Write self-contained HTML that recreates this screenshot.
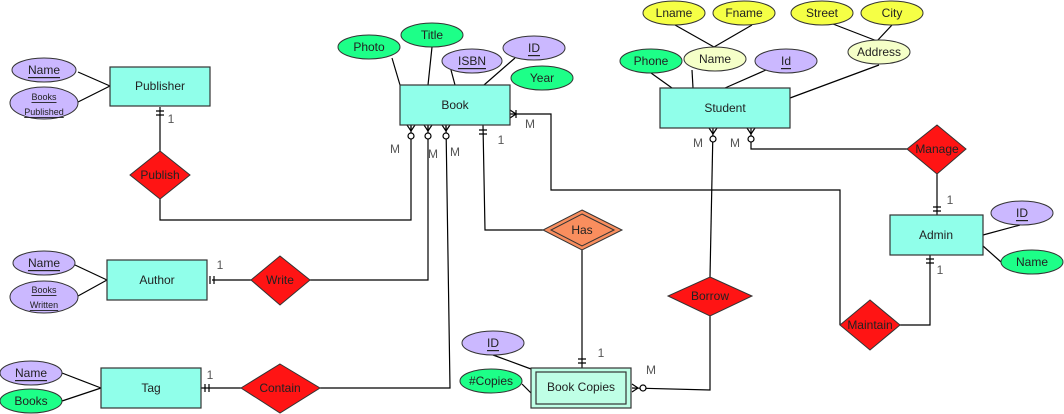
<!DOCTYPE html>
<html><head><meta charset="utf-8"><style>
html,body{margin:0;padding:0;background:#fff;}
svg{display:block;font-family:"Liberation Sans",sans-serif;}
text{font-size:12px;fill:#222;text-anchor:middle;dominant-baseline:central;}
.l{fill:#555;font-size:12px;}
</style></head><body>
<svg width="1064" height="414" viewBox="0 0 1064 414" xmlns="http://www.w3.org/2000/svg">
<g stroke="#000" stroke-width="1.2" fill="none">
<!-- attribute lines -->
<line x1="78" y1="72" x2="110" y2="86"/><line x1="78" y1="102" x2="110" y2="86"/>
<line x1="392" y1="58" x2="400" y2="85"/><line x1="432" y1="47" x2="428" y2="85"/>
<line x1="451" y1="70" x2="455" y2="85"/><line x1="515" y1="58" x2="484" y2="85"/>
<line x1="675" y1="25" x2="714" y2="47"/><line x1="752" y1="25" x2="714" y2="47"/>
<line x1="833" y1="24" x2="877" y2="41"/><line x1="892" y1="25" x2="877" y2="41"/>
<line x1="651" y1="73" x2="672" y2="88"/><line x1="692" y1="70" x2="693" y2="88"/>
<line x1="766" y1="70" x2="725" y2="88"/><line x1="879" y1="65" x2="790" y2="98"/>
<line x1="983" y1="235" x2="1020" y2="225"/><line x1="983" y1="246" x2="1001" y2="262"/>
<line x1="75" y1="265" x2="107" y2="280"/><line x1="78" y1="296" x2="107" y2="280"/>
<line x1="62" y1="373" x2="101" y2="388"/><line x1="62" y1="401" x2="101" y2="388"/>
<line x1="493" y1="355" x2="531" y2="369"/><line x1="522" y1="384" x2="531" y2="393"/>
<!-- relationship lines -->
<polyline points="160,107 160,151"/>
<polyline points="160,199 160,220 411,220 411,125"/>
<polyline points="310,280 428,280 428,125"/>
<polyline points="320,388 450,388 446,125"/>
<polyline points="483,125 485,230 543,230"/>
<polyline points="582,250 582,368"/>
<polyline points="510,114 551,114 551,190 840,190 840,325"/>
<polyline points="900,325 930,325 930,255"/>
<polyline points="937,174 937,215"/>
<polyline points="907,149 751,149 751,128"/>
<polyline points="713,128 710,277"/>
<polyline points="710,316 710,390 632,388"/>
<polyline points="212,280 251,280"/>
<polyline points="201,388 241,388"/>
<!-- crow feet -->
<g>
<path d="M411,131 L407,125 M411,131 L415,125 M411,131 L411,125"/>
<path d="M428,131 L424,125 M428,131 L432,125 M428,131 L428,125"/>
<path d="M446,131 L442,125 M446,131 L450,125 M446,131 L446,125"/>
<path d="M713,134 L709,128 M713,134 L717,128"/>
<path d="M751,134 L747,128 M751,134 L755,128"/>
<path d="M516,114 L510,110 M516,114 L510,118 M516,110 L516,118"/>
<path d="M638,388 L632,384 M638,388 L632,392"/>
</g>
<g fill="#fff">
<circle cx="411" cy="136" r="3"/><circle cx="428" cy="136" r="3"/><circle cx="446" cy="136" r="3"/>
<circle cx="713" cy="139" r="3"/><circle cx="751" cy="139" r="3"/><circle cx="643" cy="388" r="3"/>
</g>
<!-- one marks -->
<path d="M156,111 h8 M156,115 h8"/>
<path d="M479,130 h8 M479,134 h8"/>
<path d="M578,359 h8 M578,363 h8"/>
<path d="M933,207 h8 M933,211 h8"/>
<path d="M926,259 h8 M926,263 h8"/>
<path d="M210,276 v8 M214,276 v8"/>
<path d="M205,384 v8 M209,384 v8"/>
</g>
<!-- entities -->
<g stroke="#333" stroke-width="1.2" fill="#90FFEA">
<rect x="110" y="67" width="100" height="39"/>
<rect x="400" y="85" width="110" height="40"/>
<rect x="660" y="88" width="130" height="40"/>
<rect x="890" y="215" width="93" height="40"/>
<rect x="107" y="260" width="100" height="40"/>
<rect x="101" y="368" width="100" height="40"/>
<rect x="531" y="368" width="100" height="40" fill="#BFFFE6"/>
<rect x="536" y="372" width="90" height="32" fill="#BFFFE6"/>
</g>
<!-- diamonds -->
<g stroke="#333" stroke-width="1" fill="#FF1414">
<polygon points="160,151 190,175 160,199 130,175"/>
<polygon points="280,256 310,280 280,305 251,280"/>
<polygon points="280,364 320,388 280,413 241,388"/>
<polygon points="710,277 752,296 710,316 668,296"/>
<polygon points="870,300 900,325 870,350 840,325"/>
<polygon points="937,125 966,149 937,174 907,149"/>
<polygon points="582,210 622,230 582,250 543,230" fill="#F98E5E"/>
<polygon points="582,214 614,230 582,246 551,230" fill="none"/>
</g>
<!-- ellipses -->
<g stroke="#333" stroke-width="1">
<ellipse cx="44" cy="70" rx="32" ry="12" fill="#CBB8FF"/>
<ellipse cx="44" cy="103" rx="34" ry="16" fill="#CBB8FF"/>
<ellipse cx="369" cy="47" rx="31" ry="12" fill="#1DFF88"/>
<ellipse cx="432" cy="35" rx="31" ry="12" fill="#1DFF88"/>
<ellipse cx="472" cy="61" rx="30" ry="12" fill="#CBB8FF"/>
<ellipse cx="534" cy="48" rx="31" ry="12" fill="#CBB8FF"/>
<ellipse cx="542" cy="78" rx="31" ry="12" fill="#1DFF88"/>
<ellipse cx="674" cy="13" rx="31" ry="12" fill="#F5FF45"/>
<ellipse cx="744" cy="13" rx="31" ry="12" fill="#F5FF45"/>
<ellipse cx="822" cy="13" rx="31" ry="12" fill="#F5FF45"/>
<ellipse cx="892" cy="13" rx="31" ry="12" fill="#F5FF45"/>
<ellipse cx="715" cy="59" rx="31" ry="12" fill="#F5FFC8"/>
<ellipse cx="879" cy="52" rx="31" ry="12" fill="#F5FFC8"/>
<ellipse cx="651" cy="61" rx="31" ry="12" fill="#1DFF88"/>
<ellipse cx="786" cy="61" rx="31" ry="12" fill="#CBB8FF"/>
<ellipse cx="1022" cy="213" rx="31" ry="12" fill="#CBB8FF"/>
<ellipse cx="1032" cy="262" rx="31" ry="12" fill="#1DFF88"/>
<ellipse cx="44" cy="263" rx="31" ry="12" fill="#CBB8FF"/>
<ellipse cx="44" cy="297" rx="34" ry="16" fill="#CBB8FF"/>
<ellipse cx="31" cy="373" rx="31" ry="12" fill="#CBB8FF"/>
<ellipse cx="31" cy="401" rx="31" ry="12" fill="#1DFF88"/>
<ellipse cx="493" cy="343" rx="31" ry="12" fill="#CBB8FF"/>
<ellipse cx="491" cy="381" rx="31" ry="12" fill="#1DFF88"/>
</g>
<!-- texts -->
<text x="160" y="86">Publisher</text>
<text x="455" y="105">Book</text>
<text x="725" y="108">Student</text>
<text x="936" y="235">Admin</text>
<text x="157" y="280">Author</text>
<text x="151" y="388">Tag</text>
<text x="581" y="387">Book Copies</text>
<text x="160" y="175">Publish</text>
<text x="280" y="280">Write</text>
<text x="280" y="388">Contain</text>
<text x="710" y="296">Borrow</text>
<text x="870" y="325">Maintain</text>
<text x="937" y="149">Manage</text>
<text x="582" y="230">Has</text>
<text x="44" y="70" text-decoration="underline">Name</text>
<text x="44" y="97" style="font-size:9px" text-decoration="underline">Books</text>
<text x="44" y="112" style="font-size:9px" text-decoration="underline">Published</text>
<text x="369" y="47">Photo</text>
<text x="432" y="35">Title</text>
<text x="472" y="61" text-decoration="underline">ISBN</text>
<text x="534" y="48" text-decoration="underline">ID</text>
<text x="542" y="78">Year</text>
<text x="674" y="13">Lname</text>
<text x="744" y="13">Fname</text>
<text x="822" y="13">Street</text>
<text x="892" y="13">City</text>
<text x="715" y="59">Name</text>
<text x="879" y="52">Address</text>
<text x="651" y="61">Phone</text>
<text x="786" y="61" text-decoration="underline">Id</text>
<text x="1022" y="213" text-decoration="underline">ID</text>
<text x="1032" y="262">Name</text>
<text x="44" y="263" text-decoration="underline">Name</text>
<text x="44" y="290" style="font-size:9px" text-decoration="underline">Books</text>
<text x="44" y="305" style="font-size:9px" text-decoration="underline">Written</text>
<text x="31" y="373" text-decoration="underline">Name</text>
<text x="31" y="401">Books</text>
<text x="493" y="343" text-decoration="underline">ID</text>
<text x="491" y="381">#Copies</text>
<!-- cardinality labels -->
<text class="l" x="171" y="119">1</text>
<text class="l" x="395" y="149">M</text>
<text class="l" x="433" y="154">M</text>
<text class="l" x="455" y="152">M</text>
<text class="l" x="501" y="140">1</text>
<text class="l" x="530" y="124">M</text>
<text class="l" x="698" y="143">M</text>
<text class="l" x="735" y="143">M</text>
<text class="l" x="950" y="200">1</text>
<text class="l" x="940" y="270">1</text>
<text class="l" x="220" y="265">1</text>
<text class="l" x="210" y="375">1</text>
<text class="l" x="601" y="353">1</text>
<text class="l" x="651" y="370">M</text>
</svg>
</body></html>
